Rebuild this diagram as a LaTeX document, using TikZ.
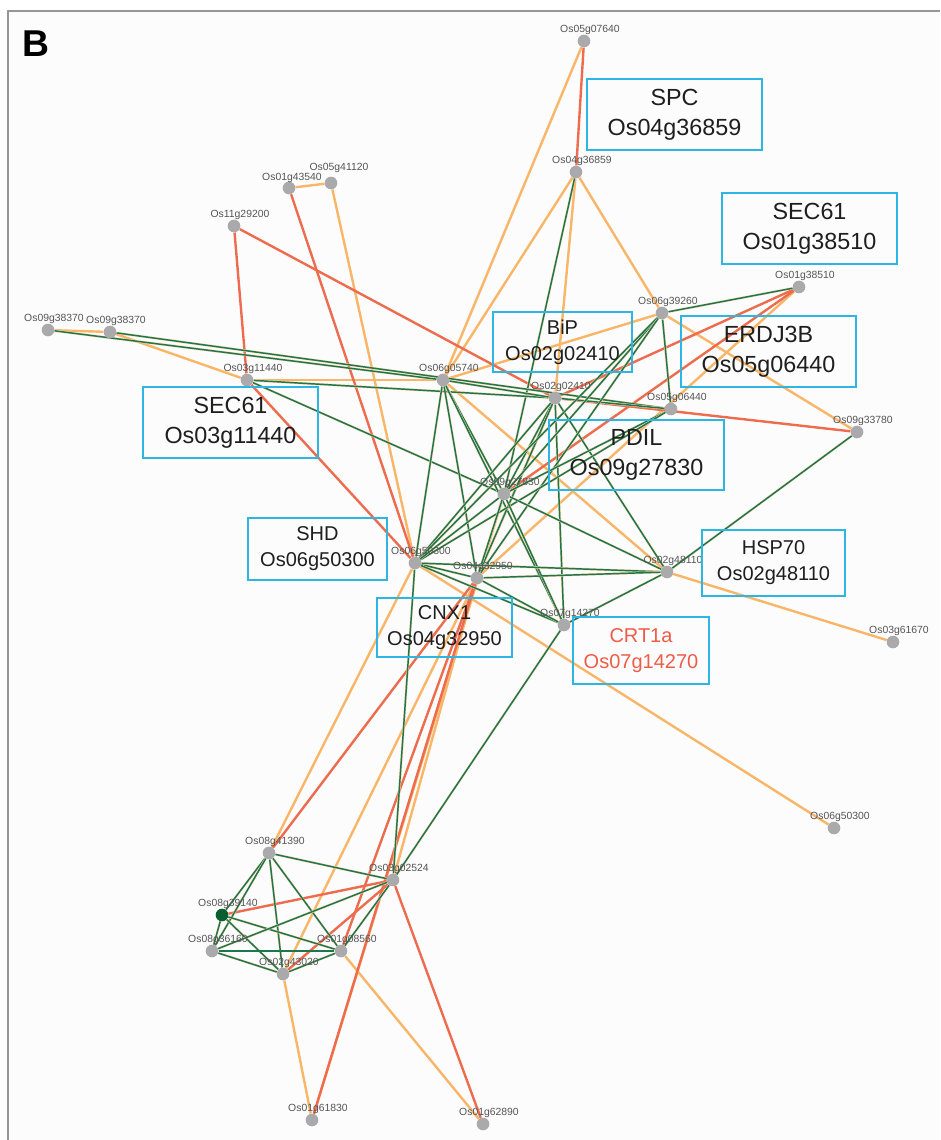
\documentclass[tikz,border=0pt]{standalone}
\usepackage{fontspec}
\setmainfont{Liberation Sans}
\usetikzlibrary{backgrounds}
\definecolor{edgegreen}{RGB}{28,118,78}
\definecolor{edgeorange}{RGB}{249,182,104}
\definecolor{edgered}{RGB}{238,108,78}
\definecolor{nodegray}{RGB}{170,170,172}
\definecolor{darkgreen}{RGB}{10,95,50}
\definecolor{labgray}{RGB}{85,85,85}
\definecolor{boxblue}{RGB}{45,181,227}
\definecolor{textdark}{RGB}{30,30,30}
\definecolor{crtred}{RGB}{238,92,72}
\definecolor{framegray}{RGB}{150,150,150}
\definecolor{bgpanel}{RGB}{252,252,253}
\tikzset{
  gn/.style={circle,fill=nodegray,minimum size=9.5pt,inner sep=0pt},
  gnd/.style={gn,fill=darkgreen},
  lab/.style={font=\fontsize{7.8}{8}\selectfont,text=labgray,inner sep=0pt},
  eg/.style={draw=edgegreen,line width=1.1pt,preaction={draw=edgeorange!55,line width=1.8pt}},
  eo/.style={draw=edgeorange,line width=1.8pt},
  er/.style={draw=edgered,line width=1.8pt},
  genebox/.style={draw=boxblue,line width=2.2pt,align=center,inner sep=0pt,text=textdark},
  bigtext/.style={font=\fontsize{17.5}{22.5}\selectfont},
  smalltext/.style={font=\fontsize{15}{19.5}\selectfont},
}
\newcommand{\gene}[7][gn]{\node[#1] (#2) at (#3,#4) {}; \node[lab] (#2l) at ([shift={(#5,#6)}]#3,#4) {#7};}
\begin{document}
\begin{tikzpicture}[x=0.75pt,y=-0.75pt]
\useasboundingbox (0,0) rectangle (940,1140);
\node[font=\fontsize{28}{30}\selectfont\bfseries,anchor=west,inner sep=0pt] (panelB) at (22,44) {B};

% gene nodes
\gene{A}{584}{41}{6}{-11}{Os05g07640}
\gene{Bf}{576}{172}{6}{-11}{Os04g36859}
\gene{Ca}{289}{188}{3}{-10}{Os01g43540}
\gene{Cb}{331}{183}{8}{-15}{Os05g41120}
\gene{D}{234}{226}{6}{-11}{Os11g29200}
\gene{Ea}{48}{330}{6}{-11}{Os09g38370}
\gene{Eb}{110}{332}{6}{-11}{Os09g38370}
\gene{F}{247}{380}{6}{-11}{Os03g11440}
\gene{G}{443}{380}{6}{-11}{Os06g05740}
\gene{H}{555}{398}{6}{-11}{Os02g02410}
\gene{I}{662}{313}{6}{-11}{Os06g39260}
\gene{J}{799}{287}{6}{-11}{Os01g38510}
\gene{K}{671}{409}{6}{-11}{Os05g06440}
\gene{L}{857}{432}{6}{-11}{Os09g33780}
\gene{M}{504}{494}{6}{-11}{Os09g27830}
\gene{N}{415}{563}{6}{-11}{Os06g50300}
\gene{O}{477}{578}{6}{-11}{Os04g32950}
\gene{P}{667}{572}{6}{-11}{Os02g48110}
\gene{Q}{564}{625}{6}{-11}{Os07g14270}
\gene{R}{893}{642}{6}{-11}{Os03g61670}
\gene{S}{834}{828}{6}{-11}{Os06g50300}
\gene{T}{269}{853}{6}{-11}{Os08g41390}
\gene{U}{393}{880}{6}{-11}{Os03g02524}
\gene[gnd]{V}{222}{915}{6}{-11}{Os08g39140}
\gene{W}{212}{951}{6}{-11}{Os08g36160}
\gene{X}{341}{951}{6}{-11}{Os01g08560}
\gene{Y}{283}{974}{6}{-11}{Os02g43020}
\gene{Za}{312}{1120}{6}{-11}{Os01g61830}
\gene{Zb}{483}{1124}{6}{-11}{Os01g62890}

\begin{pgfonlayer}{background}
\fill[white] (0,0) rectangle (940,1140);
\fill[bgpanel] (8,11) rectangle (940,1140);
\draw[framegray,line width=1pt] (8,1140) -- (8,11) -- (940,11);
% orange edges
\foreach \a/\b in {A/G,Bf/G,Bf/H,Bf/I,Ca/Cb,Cb/N,Ea/Eb,Eb/F,F/G,G/P,I/G,I/L,J/O,H/O,P/R,N/S,T/N,Y/O,Za/M,U/O,Y/Za,X/Zb}
  \draw[eo] (\a) -- (\b);
% red edges
\foreach \a/\b in {A/Bf,Ca/N,D/F,D/H,F/N,H/J,H/L,J/M,T/O,Za/O,X/O,V/U,Y/U,U/Zb}
  \draw[er] (\a) -- (\b);
% green edges
\foreach \a/\b in {Bf/M,Ea/G,Eb/K,F/H,F/M,G/H,G/M,G/N,G/O,G/Q,H/M,H/N,H/O,H/P,H/Q,H/K,I/J,I/K,I/M,I/N,I/O,K/M,K/N,L/P,M/N,M/O,M/P,M/Q,N/O,N/P,N/Q,O/P,O/Q,P/Q,Q/U,U/N,T/U,T/V,T/W,T/X,T/Y,V/W,V/X,V/Y,W/X,W/Y,W/U,X/Y,X/U}
  \draw[eg] (\a) -- (\b);
\end{pgfonlayer}

% boxes
\node[genebox,bigtext,minimum width=131.25pt,minimum height=53.25pt] (bSPC) at (674.5,114.5) {SPC\\Os04g36859};
\node[genebox,bigtext,minimum width=131.25pt,minimum height=53.25pt] (bSECa) at (809.5,228.5) {SEC61\\Os01g38510};
\node[genebox,smalltext,minimum width=104.25pt,minimum height=45pt] (bBiP) at (562.5,342) {BiP\\Os02g02410};
\node[genebox,bigtext,minimum width=131.25pt,minimum height=53.25pt] (bERD) at (768.5,351.5) {ERDJ3B\\Os05g06440};
\node[genebox,bigtext,minimum width=131.25pt,minimum height=53.25pt] (bSECb) at (230.5,422.5) {SEC61\\Os03g11440};
\node[genebox,bigtext,minimum width=131.25pt,minimum height=52.5pt] (bPDIL) at (636.5,455) {PDIL\\Os09g27830};
\node[genebox,smalltext,minimum width=104.25pt,minimum height=46.5pt] (bSHD) at (317.5,549) {SHD\\Os06g50300};
\node[genebox,smalltext,minimum width=107.25pt,minimum height=49.5pt] (bHSP) at (773.5,563) {HSP70\\Os02g48110};
\node[genebox,smalltext,minimum width=101.25pt,minimum height=44.25pt] (bCNX) at (444.5,627.5) {CNX1\\Os04g32950};
\node[genebox,smalltext,text=crtred,minimum width=102pt,minimum height=50.25pt] (bCRT) at (641,650.5) {CRT1a\\Os07g14270};
\end{tikzpicture}
\end{document}
